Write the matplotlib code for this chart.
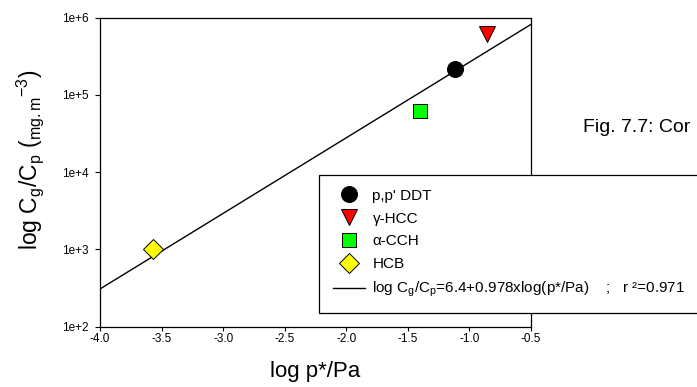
import matplotlib
matplotlib.use('Agg')
import matplotlib.pyplot as plt
from matplotlib.ticker import NullLocator, FixedLocator

plt.rcParams['font.family'] = ['Liberation Sans', 'DejaVu Sans']
plt.rcParams['mathtext.fontset'] = 'custom'
plt.rcParams['mathtext.rm'] = 'Liberation Sans'
plt.rcParams['mathtext.it'] = 'Liberation Sans:italic'
plt.rcParams['mathtext.bf'] = 'Liberation Sans:bold'

# ---- data ----
compounds = ["p,p' DDT", "γ-HCC", "α-CCH", "HCB"]
log_p = [-1.12, -0.86, -1.40, -3.57]
cg_cp = [2.13e5, 6.1e5, 6.15e4, 1.0e3]
marker_styles = ['o', 'v', 's', 'D']
marker_colors = ['#000000', '#ff0000', '#00ff00', '#ffff00']
marker_sizes = [11.5, 12, 10.5, 10]

fit_intercept = 6.4
fit_slope = 0.978
fit_r2 = 0.971
fit_x = [-4.0, -0.5]

x_ticks = [-4.0, -3.5, -3.0, -2.5, -2.0, -1.5, -1.0, -0.5]
x_tick_labels = ['-4.0', '-3.5', '-3.0', '-2.5', '-2.0', '-1.5', '-1.0', '-0.5']
y_ticks = [1e2, 1e3, 1e4, 1e5, 1e6]
y_tick_labels = ['1e+2', '1e+3', '1e+4', '1e+5', '1e+6']

# ---- figure ----
W, H = 697, 387
fig = plt.figure(figsize=(W / 100, H / 100), dpi=100)
ax = fig.add_axes([100 / W, 1 - 326.7 / H, 431 / W, 309.2 / H])

fit_y = [10 ** (fit_intercept + fit_slope * x) for x in fit_x]
fit_label = (r'log C$_\mathregular{g}$/C$_\mathregular{p}$=6.4+0.978xlog(p*/Pa)    ;   r ²='
             + f'{fit_r2:.3f}')

handles = []
for name, x, y, m, c, s in zip(compounds, log_p, cg_cp, marker_styles, marker_colors, marker_sizes):
    h, = ax.plot([x], [y], linestyle='none', marker=m, markersize=s,
                 markerfacecolor=c, markeredgecolor='black', markeredgewidth=0.7,
                 label=name, zorder=3)
    handles.append(h)
line, = ax.plot(fit_x, fit_y, color='black', linewidth=1.0, label=fit_label, zorder=2)
handles.append(line)

ax.set_yscale('log')
ax.set_xlim(-4.0, -0.5)
ax.set_ylim(1e2, 1e6)
ax.xaxis.set_major_locator(FixedLocator(x_ticks))
ax.set_xticklabels(x_tick_labels)
ax.yaxis.set_major_locator(FixedLocator(y_ticks))
ax.set_yticklabels(y_tick_labels)
ax.yaxis.set_minor_locator(NullLocator())
ax.xaxis.set_minor_locator(NullLocator())

ax.tick_params(axis='y', direction='out', length=3.6, width=0.8, pad=4.5, labelsize=8.5)
ax.tick_params(axis='x', direction='out', length=3, width=0.8, pad=1.5, labelsize=8.5)
for sp in ax.spines.values():
    sp.set_linewidth(0.9)
    sp.set_color('black')

ax.set_xlabel('log p*/Pa', fontsize=16)
ax.xaxis.label.set_va('top')
ax.xaxis.set_label_coords(0.5, (326.7 - 361) / 309.2)

ax.set_ylabel(r'log C$_\mathregular{g}$/C$_\mathregular{p}$ ($\mathregular{{}_{mg.m}{}^{-3}}$)',
              fontsize=16.5)
ax.yaxis.label.set_va('center')
ax.yaxis.set_label_coords((30 - 100) / 431, (326.7 - 160) / 309.2)

leg = ax.legend(handles=handles, loc='upper left',
                bbox_to_anchor=(319 / W, 0.0, (730 - 319) / W, 1 - 175 / H),
                bbox_transform=fig.transFigure, mode='expand', borderaxespad=0,
                fontsize=11, frameon=True, fancybox=False, framealpha=1,
                edgecolor='black', numpoints=1, handlelength=2.1,
                handletextpad=0.5, labelspacing=0.58, borderpad=0.9)
leg.get_frame().set_linewidth(0.9)

fig.text(583 / W, 1 - 132.5 / H, 'Fig. 7.7: Cor', fontsize=14, ha='left', va='baseline')

fig.savefig('out.png', dpi=100)
